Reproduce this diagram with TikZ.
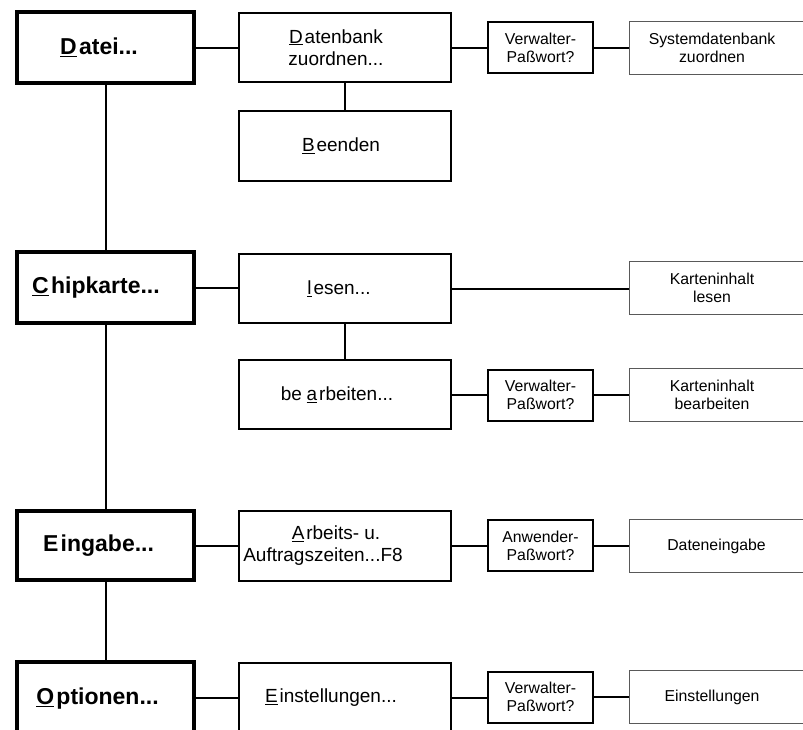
\documentclass[tikz,border=0pt]{standalone}
\usepackage{fontspec}
\setmainfont{Liberation Sans}
\newcommand\mnem[1]{\underline{#1}\hspace{0.1em}}
\begin{document}
\begin{tikzpicture}[x=1pt,y=-1pt,
 mainbox/.style={draw, line width=4pt, inner sep=0pt, minimum width=177pt, minimum height=71pt},
 maintext/.style={inner sep=0pt, font=\fontsize{23}{27}\selectfont\bfseries},
 subbox/.style={draw, line width=2pt, inner sep=0pt, minimum width=212pt, minimum height=69pt},
 subtext/.style={align=center, inner sep=0pt, font=\fontsize{19}{22}\selectfont},
 pwbox/.style={draw, line width=2pt, inner sep=0pt, minimum width=105pt, minimum height=51pt, align=center, font=\fontsize{15.8}{18}\selectfont},
 resbox/.style={draw=black!65, line width=1pt, inner sep=0pt, minimum width=190pt, minimum height=53pt},
 restext/.style={align=center, inner sep=0pt, font=\fontsize{15.8}{18}\selectfont},
 link/.style={line width=2pt}]
\useasboundingbox (0,0) rectangle (803,729);
\fill[white] (0,0) rectangle (803,729);
\clip (0,0) rectangle (803,729);

% level 1
\node[mainbox] (datei) at (105.5,47.5) {};
\node[mainbox] (chip) at (105.5,287.5) {};
\node[mainbox, minimum height=69pt] (eing) at (105.5,545.5) {};
\node[mainbox, minimum height=72pt] (opt) at (105.5,698) {};
\node[maintext] (dateit) at ([xshift=-6.5pt]datei.center) {\mnem{D}atei...};
\node[maintext] (chipt) at ([xshift=-9.5pt]chip.center) {\mnem{C}hipkarte...};
\node[maintext] (eingt) at ([xshift=-7pt]eing.center) {E\hspace{0.1em}ingabe...};
\node[maintext] (optt) at ([xshift=-8pt,yshift=-1pt]opt.center) {\mnem{O}ptionen...};

% level 2
\node[subbox] (db) at (345,47.5) {};
\node[subbox, minimum height=70pt] (beenden) at (345,146) {};
\node[subbox] (lesen) at (345,288.5) {};
\node[subbox] (bearb) at (345,394.5) {};
\node[subbox, minimum height=70pt] (arb) at (345,546) {};
\node[subbox, minimum height=70pt] (einst) at (345,698) {};
\node[subtext] (dbt) at ([xshift=-9pt]db.center) {\mnem{D}atenbank\\zuordnen...};
\node[subtext] (beendent) at ([xshift=-4pt]beenden.center) {\mnem{B}eenden};
\node[subtext] (lesent) at ([xshift=-6pt]lesen.center) {\mnem{l}esen...};
\node[subtext] (bearbt) at ([xshift=-8pt]bearb.center) {be\hspace{0.25em}\mnem{a}rbeiten...};
\node[subtext] (arbt) at ([xshift=-22pt]arb.center) {\hspace*{26pt}\mnem{A}rbeits- u.\\Auftragszeiten...F8};
\node[subtext] (einstt) at ([xshift=-14pt]einst.center) {\mnem{E}instellungen...};

% password checks
\node[pwbox] (pw1) at (540.5,47.5) {Verwalter-\\Paßwort?};
\node[pwbox] (pw2) at (540.5,395) {Verwalter-\\Paßwort?};
\node[pwbox] (pw3) at (540.5,545.5) {Anwender-\\Paßwort?};
\node[pwbox] (pw4) at (540.5,697) {Verwalter-\\Paßwort?};

% results
\node[resbox] (r1) at (724.5,48) {};
\node[resbox] (r2) at (724.5,288) {};
\node[resbox] (r3) at (724.5,395) {};
\node[resbox] (r4) at (724.5,546) {};
\node[resbox] (r5) at (724.5,697) {};
\node[restext] (r1t) at ([xshift=-12.5pt]r1.center) {Systemdatenbank\\zuordnen};
\node[restext] (r2t) at ([xshift=-12.5pt]r2.center) {Karteninhalt\\lesen};
\node[restext] (r3t) at ([xshift=-12.5pt]r3.center) {Karteninhalt\\bearbeiten};
\node[restext] (r4t) at ([xshift=-8pt]r4.center) {Dateneingabe};
\node[restext] (r5t) at ([xshift=-12.5pt]r5.center) {Einstellungen};

% connectors
\draw[link] (datei) -- (chip);
\draw[link] (chip) -- (eing);
\draw[link] (eing) -- (opt);

\draw[link] (datei) -- (db);
\draw[link] (db) -- (beenden);
\draw[link] (db) -- (pw1);
\draw[link] (pw1.east) -- (pw1.east -| r1.west);

\draw[link] (chip.east) -- (chip.east -| lesen.west);
\draw[link] (lesen.east) -- (lesen.east -| r2.west);
\draw[link] (lesen) -- (bearb);
\draw[link] (bearb.east) -- (bearb.east -| pw2.west);
\draw[link] (pw2.east) -- (pw2.east -| r3.west);

\draw[link] (eing.east) -- (eing.east -| arb.west);
\draw[link] (arb.east) -- (arb.east -| pw3.west);
\draw[link] (pw3.east) -- (pw3.east -| r4.west);

\draw[link] (opt.east) -- (opt.east -| einst.west);
\draw[link] (einst.east) -- (einst.east -| pw4.west);
\draw[link] (pw4.east) -- (pw4.east -| r5.west);
\end{tikzpicture}
\end{document}
